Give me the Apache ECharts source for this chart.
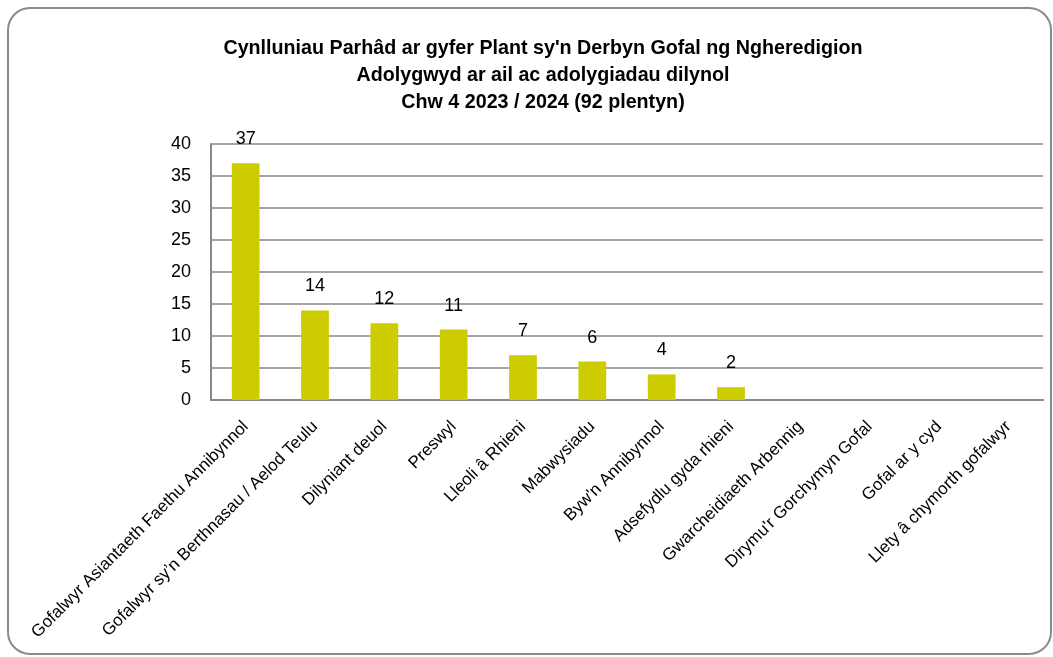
<!doctype html>
<meta charset="utf-8">
<style>
  html, body { margin: 0; padding: 0; width: 100%; height: 100%; background: #fff; }
  #chart { width: 1053px; height: 657px; }
</style>
<script src="https://cdn.jsdelivr.net/npm/echarts@6/dist/echarts.min.js"></script>

<div id="chart"></div>

<script>
  const categories = [
    'Gofalwyr Asiantaeth Faethu Annibynnol',
    'Gofalwyr sy\u2019n Berthnasau / Aelod Teulu',
    'Dilyniant deuol',
    'Preswyl',
    'Lleoli â Rhieni',
    'Mabwysiadu',
    'Byw\'n Annibynnol',
    'Adsefydlu gyda rhieni',
    'Gwarcheidiaeth Arbennig',
    'Dirymu\'r Gorchymyn Gofal',
    'Gofal ar y cyd',
    'Llety â chymorth gofalwyr'
  ];
  const values = [37, 14, 12, 11, 7, 6, 4, 2, 0, 0, 0, 0];
  const titleLines = [
    'Cynlluniau Parhâd ar gyfer Plant sy\'n Derbyn Gofal ng Ngheredigion',
    'Adolygwyd ar ail ac adolygiadau dilynol',
    'Chw 4 2023 / 2024 (92 plentyn)'
  ];

  const FONT = '"Liberation Sans", Arial, sans-serif';
  let chart = echarts.init(document.getElementById('chart'));

  chart.setOption({
    animation: false,
    graphic: [{
      type: 'rect',
      shape: { x: 8, y: 8, width: 1043, height: 646, r: 22 },
      style: { fill: 'none', stroke: '#8a8a8a', lineWidth: 2 },
      z: -1
    }],
    title: {
      text: titleLines.join('\n'),
      left: 538,
      top: 30,
      textAlign: 'center',
      textStyle: {
        fontFamily: FONT,
        fontWeight: 'bold',
        fontSize: 19.7,
        lineHeight: 27,
        color: '#000'
      }
    },
    grid: { left: 211, right: 10, top: 144, bottom: 257 },
    xAxis: {
      type: 'category',
      data: categories,
      axisLine: { lineStyle: { color: '#888', width: 2 } },
      axisTick: { show: false },
      axisLabel: {
        interval: 0,
        rotate: 45,
        margin: 24,
        fontFamily: FONT,
        fontSize: 17,
        color: '#000'
      }
    },
    yAxis: {
      type: 'value',
      min: 0,
      max: 40,
      interval: 5,
      axisLine: { show: true, lineStyle: { color: '#888', width: 2 } },
      axisTick: { show: false },
      splitLine: { lineStyle: { color: '#888', width: 1.5 } },
      axisLabel: {
        margin: 20,
        fontFamily: FONT,
        fontSize: 18,
        color: '#000'
      }
    },
    series: [{
      type: 'bar',
      data: values,
      barWidth: '40%',
      itemStyle: { color: '#cccc00' },
      label: {
        show: true,
        position: 'top',
        distance: 15,
        fontFamily: FONT,
        fontSize: 18,
        color: '#000',
        formatter: p => p.value > 0 ? p.value : ''
      }
    }]
  });
</script>
